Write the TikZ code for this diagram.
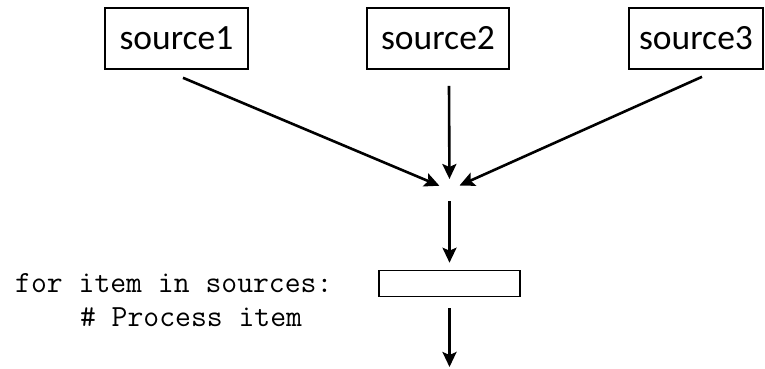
\documentclass[tikz,border=0pt]{standalone}
\usepackage{fontspec}
\setmainfont{Carlito}
\usetikzlibrary{arrows.meta,calc}
\begin{document}
\begin{tikzpicture}[x=1pt,y=-1pt,
  srcbox/.style={draw,line width=1.6pt,minimum height=61pt,inner sep=0pt,font=\fontsize{35.5}{40}\selectfont},
  arr/.style={line width=2.6pt,-{Stealth[length=15pt,width=14pt,inset=3pt]}},
  code/.style={font=\ttfamily\fontsize{30.8}{34}\selectfont,inner sep=0pt,anchor=base west}]
\useasboundingbox (0,0) rectangle (765,368);
\node[srcbox,minimum width=143pt] (s1) at (176.5,38.5) {source1};
\node[srcbox,minimum width=142pt] (s2) at (438,38.5) {source2};
\node[srcbox,minimum width=134pt] (s3) at (696,38.5) {source3};
\coordinate (m) at (449.5,190);
\node[draw,line width=1.6pt,minimum width=141pt,minimum height=26pt,inner sep=0pt] (proc) at (449.5,283.5) {};
\coordinate (out) at (449.5,368);
\node[code] (c1) at (15,292) {for item in sources:};
\node[code] (c2) at (79.8,326) {\# Process item};
\draw[arr,shorten >=11pt] ([xshift=6.5pt,yshift=-8pt]s1.south) -- (m);
\draw[arr,shorten >=11pt] ([xshift=11pt,yshift=-16pt]s2.south) -- (m);
\draw[arr,shorten >=11pt] ([xshift=6pt,yshift=-7pt]s3.south) -- (m);
\draw[arr,shorten <=11pt,shorten >=7pt] (m) -- (proc.north);
\draw[arr,shorten <=11pt,shorten >=1pt] (proc.south) -- (out);
\end{tikzpicture}
\end{document}
